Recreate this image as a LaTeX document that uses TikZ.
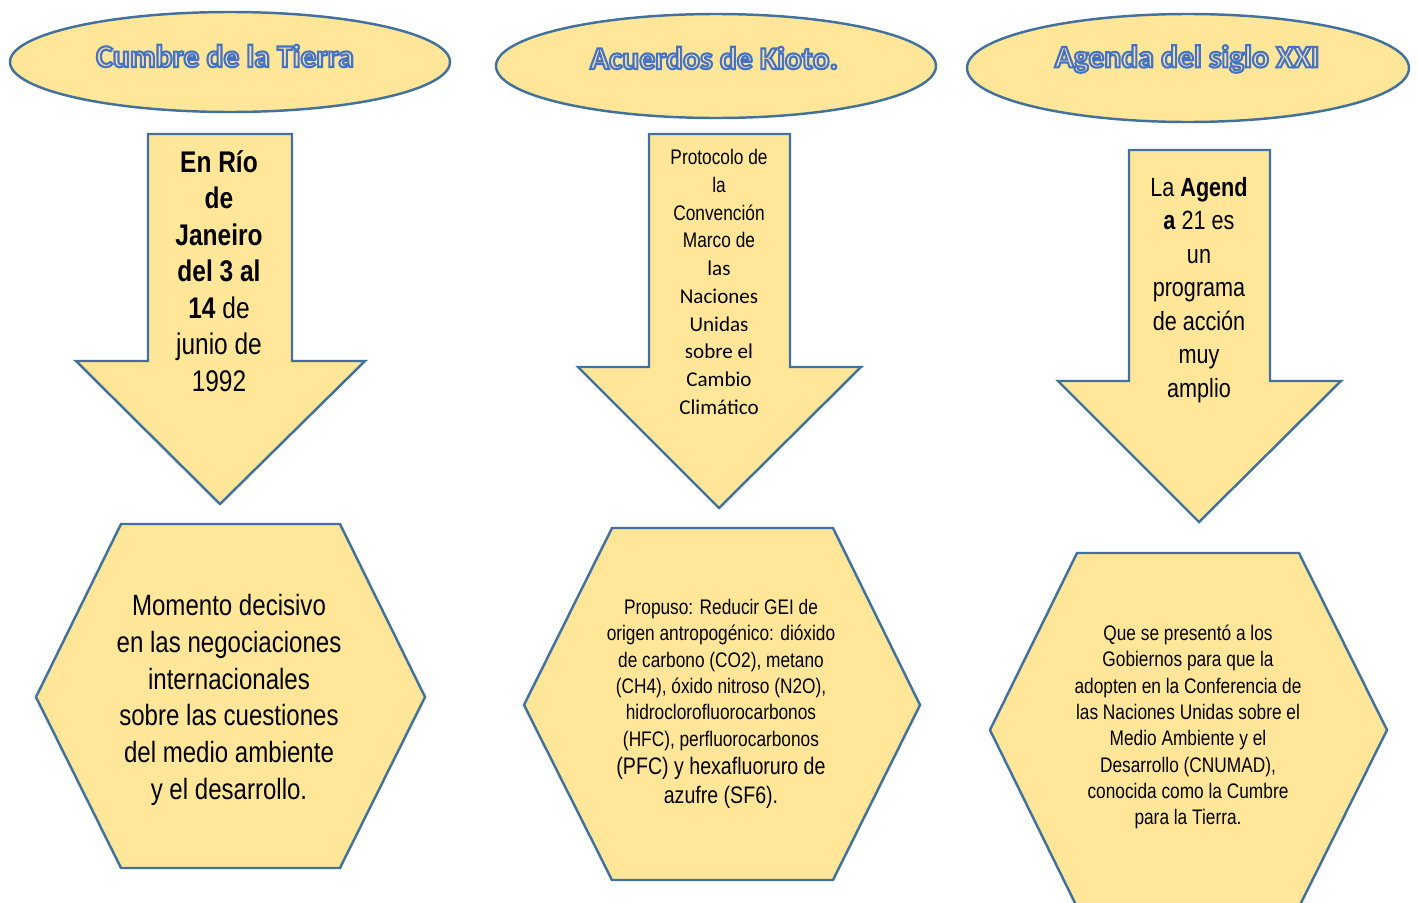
\documentclass[tikz,border=0pt]{standalone}
\usepackage{fontspec}
\usetikzlibrary{positioning}
\setmainfont{Liberation Sans}
\newfontfamily\narrowfont[FakeStretch=0.82]{Liberation Sans}
\newfontfamily\calfont{Carlito}

\definecolor{boxfill}{RGB}{255,230,153}
\definecolor{boxline}{RGB}{65,113,156}
\definecolor{titlefill}{RGB}{246,224,170}

\tikzstyle{ovalshape} = [
    draw=boxline,
    fill=boxfill,
    line width=1.4pt,
]
\tikzstyle{downarrow} = [
    draw=boxline,
    fill=boxfill,
    line width=1.4pt,
    line join=miter,
]
\tikzstyle{hexshape} = [
    draw=boxline,
    fill=boxfill,
    line width=1.4pt,
]
\tikzstyle{titlestyle} = [
    inner sep=0pt,
    font=\calfont\bfseries\fontsize{18}{21}\selectfont,
]
\tikzstyle{textstyle} = [
    inner sep=0pt,
    align=center,
    text=black,
]

%% outlined title text (fill and stroke)
\newcommand{\titletext}[1]{\textcolor{titlefill}{\special{pdf:literal direct 2 Tr 1.2 w 0.267 0.447 0.769 RG}#1\special{pdf:literal direct 0 Tr}}}

\begin{document}
\begin{tikzpicture}[x=0.02cm, y=-0.02cm]
        \path[use as bounding box, clip] (0,0) rectangle (1418,903);
        %% title ovals
        \draw [ovalshape] (230,62) ellipse [x radius=220, y radius=50];
        \draw [ovalshape] (716,66) ellipse [x radius=220, y radius=52];
        \draw [ovalshape] (1188,68) ellipse [x radius=221, y radius=54];
        \node (cumbre) [titlestyle] at (225,56) {\titletext{Cumbre de la Tierra}};
        \node (kioto) [titlestyle] at (714,58) {\titletext{Acuerdos de Kioto.}};
        \node (agenda) [titlestyle] at (1187,59) {\titletext{Agenda del siglo XXI}};
        %% arrows
        \draw [downarrow] (148,134) -- (292,134) -- (292,361) -- (365,361) -- (220,504) -- (76,361) -- (148,361) -- cycle;
        \draw [downarrow] (649,134) -- (790,134) -- (790,367) -- (861,367) -- (719,508) -- (578,367) -- (649,367) -- cycle;
        \draw [downarrow] (1129,150) -- (1270,150) -- (1270,381) -- (1341,381) -- (1199,522) -- (1058,381) -- (1129,381) -- cycle;
        \node (rio) [textstyle, font=\narrowfont\fontsize{17}{20.8}\selectfont] at (219,271)
            {\textbf{En Río}\\ \textbf{de}\\ \textbf{Janeiro}\\ \textbf{del 3 al}\\ \textbf{14} de\\ junio de\\ 1992};
        \node (protocolo) [textstyle, font=\fontsize{12}{15.8}\selectfont] at (719,282)
            {\narrowfont Protocolo de\\ \narrowfont la\\ \narrowfont Convención\\ \narrowfont Marco de\\ \calfont las\\ \calfont Naciones\\ \calfont Unidas\\ \calfont sobre el\\ \calfont Cambio\\ \calfont Climático};
        \node (programa) [textstyle, font=\narrowfont\fontsize{15}{19.1}\selectfont] at (1199,290)
            {La \textbf{Agend}\\ \textbf{a} 21 es\\ un\\ programa\\ de acción\\ muy\\ amplio};
        %% hexagons
        \draw [hexshape] (121,524) -- (340,524) -- (425,697) -- (340,868) -- (121,868) -- (36,697) -- cycle;
        \draw [hexshape] (612,528) -- (833,528) -- (920,705) -- (833,880) -- (612,880) -- (524,705) -- cycle;
        \draw [hexshape] (1077,553) -- (1299,553) -- (1387,730) -- (1299,907) -- (1077,907) -- (990,730) -- cycle;
        \node (momento) [textstyle, font=\narrowfont\fontsize{16.7}{20.9}\selectfont] at (229,700)
            {Momento decisivo\\ en las negociaciones\\ internacionales\\ sobre las cuestiones\\ del medio ambiente\\ y el desarrollo.};
        \node (propuso) [textstyle, font=\narrowfont\fontsize{12}{15}\selectfont] at (721,704)
            {Propuso: Reducir GEI de\\ origen antropogénico: dióxido\\ de carbono (CO2), metano\\ (CH4), óxido nitroso (N2O),\\ hidroclorofluorocarbonos\\ (HFC), perfluorocarbonos\\[0.9pt] {\fontsize{13.6}{16}\selectfont (PFC) y hexafluoruro de}\\[2pt] {\fontsize{13.6}{17}\selectfont azufre (SF6).}};
        \node (presento) [textstyle, font=\narrowfont\fontsize{12}{15}\selectfont] at (1188,727)
            {Que se presentó a los\\ Gobiernos para que la\\ adopten en la Conferencia de\\ las Naciones Unidas sobre el\\ Medio Ambiente y el\\ Desarrollo (CNUMAD),\\ conocida como la Cumbre\\ para la Tierra.};
\end{tikzpicture}
\end{document}
